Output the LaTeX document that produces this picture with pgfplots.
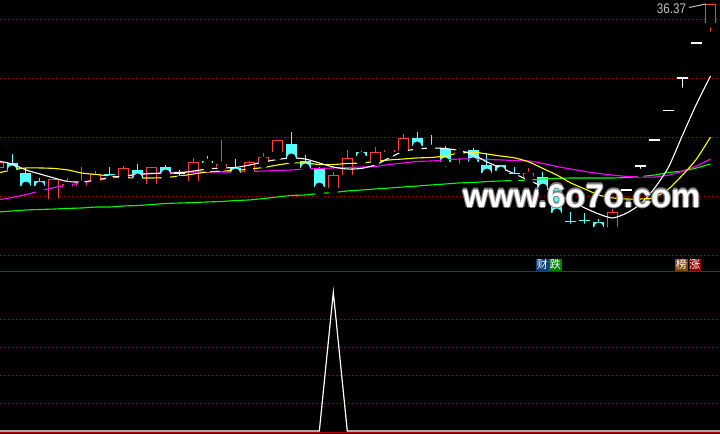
\documentclass[border=0pt]{standalone}
\usepackage{pgfplots}
\pgfplotsset{compat=1.18}
\usepackage{pgfplotstable}
\usepackage{fontspec}
\setmainfont{Liberation Sans}
\newfontfamily\cjk{Noto Sans CJK SC}

\definecolor{upred}{RGB}{255,60,60}
\definecolor{dncyan}{RGB}{84,255,255}
\definecolor{gridred}{RGB}{190,0,0}
\definecolor{maYellow}{RGB}{255,255,0}
\definecolor{maMagenta}{RGB}{255,0,255}
\definecolor{maGreen}{RGB}{0,255,0}
\definecolor{tagblue}{RGB}{16,62,120}
\definecolor{taggreen}{RGB}{0,130,0}
\definecolor{tagbrown}{RGB}{135,70,10}
\definecolor{tagred}{RGB}{140,0,0}
\definecolor{pricegray}{RGB}{192,192,192}

% day  open high low close  (rising days, hollow red)
\pgfplotstableread{
k o h l c
-1 22.46 23.05 22.37 22.97
3 19.83 21.53 19.83 21.53
4 20.85 21.61 20.59 21.10
5 20.93 22.54 20.93 21.27
6 21.36 22.20 21.36 21.95
8 21.61 22.63 21.61 22.46
10 21.10 22.54 21.10 22.54
13 21.36 23.31 21.36 22.97
15 22.54 24.83 22.54 22.80
17 22.12 23.05 22.12 22.97
18 22.97 23.73 22.80 23.39
19 23.81 24.83 23.47 24.83
23 20.76 22.12 20.42 21.86
24 21.86 23.98 21.86 23.31
26 23.05 24.24 23.05 23.81
27 23.81 24.24 23.64 23.98
28 23.90 25.34 23.90 25.00
32 23.64 24.15 22.46 23.81
37 21.69 22.46 21.19 22.03
43 17.46 18.98 17.12 18.73
50 34.75 36.37 33.64 36.37
}\upbars

% falling days, filled cyan
\pgfplotstableread{
k o h l c
0 22.88 23.64 22.03 22.29
1 22.03 22.46 20.76 20.93
2 21.36 21.61 20.51 20.93
9 22.29 22.80 20.85 21.61
11 22.54 22.71 21.69 21.95
14 23.05 23.47 22.46 22.88
16 22.46 23.22 21.95 22.03
20 24.49 25.51 23.14 23.31
21 23.05 23.56 22.37 22.46
22 22.46 22.54 20.34 20.85
25 23.81 23.90 22.97 23.47
29 25.00 25.51 24.15 24.32
30 24.15 25.25 23.98 24.07
31 24.07 24.32 22.20 22.97
33 23.98 24.15 22.88 22.97
34 22.71 23.73 21.95 22.03
35 22.71 22.71 21.78 22.20
38 21.69 22.12 20.51 20.76
39 20.93 21.10 18.56 18.64
42 17.88 18.14 17.29 17.46
}\dnbars

% cyan crosses (open ~ close)
\pgfplotstableread{
k o h l c
7 21.95 22.54 21.44 21.94
36 22.03 22.54 21.61 22.02
40 17.97 18.73 17.37 17.96
41 18.05 18.64 17.37 18.04
}\dojicyan

% white (open = close), limit-up days
\pgfplotstableread{
k o h l c
12 22.03 22.29 21.44 22.03
44 20.60 20.60 20.60 20.60
45 22.63 22.63 22.03 22.63
46 24.83 24.83 24.83 24.83
47 27.33 27.33 27.33 27.33
48 30.08 30.08 28.90 30.08
49 33.05 33.05 33.05 33.05
}\dojiwhite

% moving averages
\pgfplotstableread{
k w y m g
-1 23.05 22.03 19.75 18.73
0 22.80 22.29 19.96 18.81
1 22.29 22.46 20.21 18.90
2 21.95 22.46 20.51 18.94
3 21.61 22.42 20.80 18.98
4 21.31 22.29 21.02 19.03
5 21.27 22.03 21.19 19.07
6 21.44 21.91 21.40 19.15
7 21.65 21.78 21.57 19.15
8 21.78 21.65 21.74 19.24
9 21.91 21.61 21.91 19.28
10 21.99 21.61 21.99 19.36
11 22.03 21.65 22.03 19.45
12 22.03 21.78 22.12 19.49
13 22.20 21.95 22.12 19.53
14 22.37 22.12 22.12 19.58
15 22.46 22.20 22.12 19.62
16 22.50 22.25 22.12 19.70
17 22.71 22.37 22.16 19.75
18 22.97 22.50 22.20 19.87
19 23.18 22.71 22.25 20.00
20 23.31 22.88 22.29 20.13
21 23.22 22.88 22.37 20.17
22 22.88 22.75 22.42 20.30
23 22.54 22.75 22.46 20.38
24 22.37 22.84 22.50 20.51
25 22.42 22.88 22.54 20.59
26 22.71 23.01 22.58 20.68
27 23.31 23.14 22.75 20.76
28 23.86 23.22 22.88 20.85
29 24.07 23.31 23.01 20.93
30 24.15 23.35 23.05 21.02
31 24.11 23.47 23.14 21.10
32 23.94 23.73 23.22 21.19
33 23.60 23.81 23.22 21.23
34 22.97 23.64 23.18 21.31
35 22.46 23.47 23.14 21.36
36 21.95 23.31 23.09 21.40
37 21.40 22.97 23.05 21.44
38 20.89 22.42 22.84 21.53
39 20.25 21.86 22.58 21.57
40 19.66 21.19 22.37 21.61
41 19.07 20.68 22.16 21.61
42 18.56 20.17 21.99 21.61
43 18.22 19.92 21.86 21.61
44 18.64 19.83 21.74 21.65
45 19.41 19.83 21.69 21.74
46 20.76 19.96 21.69 21.86
47 22.54 20.68 21.86 22.08
48 25.25 21.86 22.20 22.20
49 27.88 23.22 22.63 22.46
50 30.25 25.08 23.22 22.80
}\ma

\pgfplotsset{
  panel/.style={scale only axis, width=360pt,
    xmin=-0.859, xmax=50.68, xtick=\empty,
    yticklabels={}, major tick length=0pt,
    axis line style={draw=none}, tick style={draw=none},
    ymajorgrids, major grid style={gridred, line width=0.5pt, dash pattern=on 0.5pt off 1.5pt}},
  stick/.style={only marks, mark=none, forget plot,
    error bars/.cd, y dir=plus, y explicit, error mark=none,
    error bar style={color=#1, line width=0.5pt}},
  body/.style 2 args={only marks, mark=none, forget plot,
    error bars/.cd, y dir=plus, y explicit, error mark=none,
    error bar style={color=#1, line width=#2}},
}

\begin{document}
\begin{tikzpicture}
\fill[black] (0,0) rectangle (360pt,217pt);

\begin{axis}[panel, at={(0,81.25pt)}, anchor=south west, height=135.75pt,
  ymin=13.686, ymax=36.695, ytick={15,20,25,30,35}]
  % wicks
  \addplot[stick=upred] table[x=k, y=l, y error expr=\thisrow{h}-\thisrow{l}] \upbars;
  \addplot[stick=dncyan] table[x=k, y=l, y error expr=\thisrow{h}-\thisrow{l}] \dnbars;
  \addplot[stick=dncyan] table[x=k, y=l, y error expr=\thisrow{h}-\thisrow{l}] \dojicyan;
  \addplot[stick=white] table[x=k, y=l, y error expr=\thisrow{h}-\thisrow{l}] \dojiwhite;
  % bodies
  \addplot[body={dncyan}{5.5pt}] table[x=k, y=c, y error expr=\thisrow{o}-\thisrow{c}] \dnbars;
  \addplot[body={upred}{5.5pt}] table[x=k, y=o, y error expr=\thisrow{c}-\thisrow{o}] \upbars;
  \addplot[body={black}{4.5pt}] table[x=k, y expr=\thisrow{o}+0.085,
    y error expr={max(\thisrow{c}-\thisrow{o}-0.17,0)}] \upbars;
  \addplot[only marks, mark=-, mark size=2.75pt, mark options={dncyan, line width=0.5pt}, forget plot]
    table[x=k, y=c] \dojicyan;
  \addplot[only marks, mark=-, mark size=2.75pt, mark options={white, line width=0.6pt}, forget plot]
    table[x=k, y=c] \dojiwhite;
  % averages
  \addplot[maGreen, line width=0.55pt, smooth, tension=0.4] table[x=k, y=g] \ma;
  \addplot[maMagenta, line width=0.55pt, smooth, tension=0.4] table[x=k, y=m] \ma;
  \addplot[maYellow, line width=0.55pt, smooth, tension=0.4] table[x=k, y=y] \ma;
  \addplot[white, line width=0.55pt, smooth, tension=0.4] table[x=k, y=w] \ma;

  % last price
  \node[text=pricegray, font=\fontsize{7pt}{8pt}\selectfont, xscale=0.83, inner sep=0]
    at (axis cs:47.21,35.93) {36.37};
  \draw[pricegray, line width=0.5pt] (axis cs:48.46,36.06) -- (axis cs:49.68,36.36);

  % signal tags
  \node[fill=tagblue, text=white, inner sep=0, minimum width=6.4pt, minimum height=6pt,
    font=\cjk\fontsize{5.5pt}{6pt}\selectfont] at (axis cs:37.97,14.26) {财};
  \node[fill=taggreen, text=white, inner sep=0, minimum width=6.4pt, minimum height=6pt,
    font=\cjk\fontsize{5.5pt}{6pt}\selectfont] at (axis cs:38.89,14.26) {跌};
  \node[fill=tagbrown, text=white, inner sep=0, minimum width=6.4pt, minimum height=6pt,
    font=\cjk\fontsize{5.5pt}{6pt}\selectfont] at (axis cs:47.92,14.26) {榜};
  \node[fill=tagred, text=white, inner sep=0, minimum width=6.4pt, minimum height=6pt,
    font=\cjk\fontsize{5.5pt}{6pt}\selectfont] at (axis cs:48.89,14.26) {涨};

  % watermark
  \node[anchor=base, text=gray, font=\fontsize{16.4pt}{18pt}\selectfont\bfseries]
    at ([xshift=0.6pt]axis cs:40.77,19.15) {www.6o7o.com};
  \node[anchor=base, text=gray, font=\fontsize{16.4pt}{18pt}\selectfont\bfseries]
    at ([xshift=-0.6pt]axis cs:40.77,19.15) {www.6o7o.com};
  \node[anchor=base, text=gray, font=\fontsize{16.4pt}{18pt}\selectfont\bfseries]
    at ([yshift=0.6pt]axis cs:40.77,19.15) {www.6o7o.com};
  \node[anchor=base, text=gray, font=\fontsize{16.4pt}{18pt}\selectfont\bfseries]
    at ([yshift=-0.6pt]axis cs:40.77,19.15) {www.6o7o.com};
  \node[anchor=base, text=white, font=\fontsize{16.4pt}{18pt}\selectfont\bfseries]
    at (axis cs:40.77,19.15) {www.6o7o.com};
\end{axis}

\begin{axis}[panel, at={(0,0)}, anchor=south west, height=81.25pt,
  ymin=-0.0216, ymax=1.1495, ytick={0.2,0.4,0.6,0.8}]
  \draw[gridred, line width=0.5pt] (axis cs:-0.859,1.1459) -- (axis cs:50.68,1.1459);
  \draw[gridred, line width=0.5pt] (axis cs:-0.859,-0.0144) -- (axis cs:50.68,-0.0144);
  \addplot[white, line width=0.6pt] coordinates {
    (-1,0) (22,0) (23,1) (24,0) (51,0)
  };
\end{axis}

\pgfresetboundingbox
\path[use as bounding box] (0,0) rectangle (360pt,217pt);
\end{tikzpicture}
\end{document}
